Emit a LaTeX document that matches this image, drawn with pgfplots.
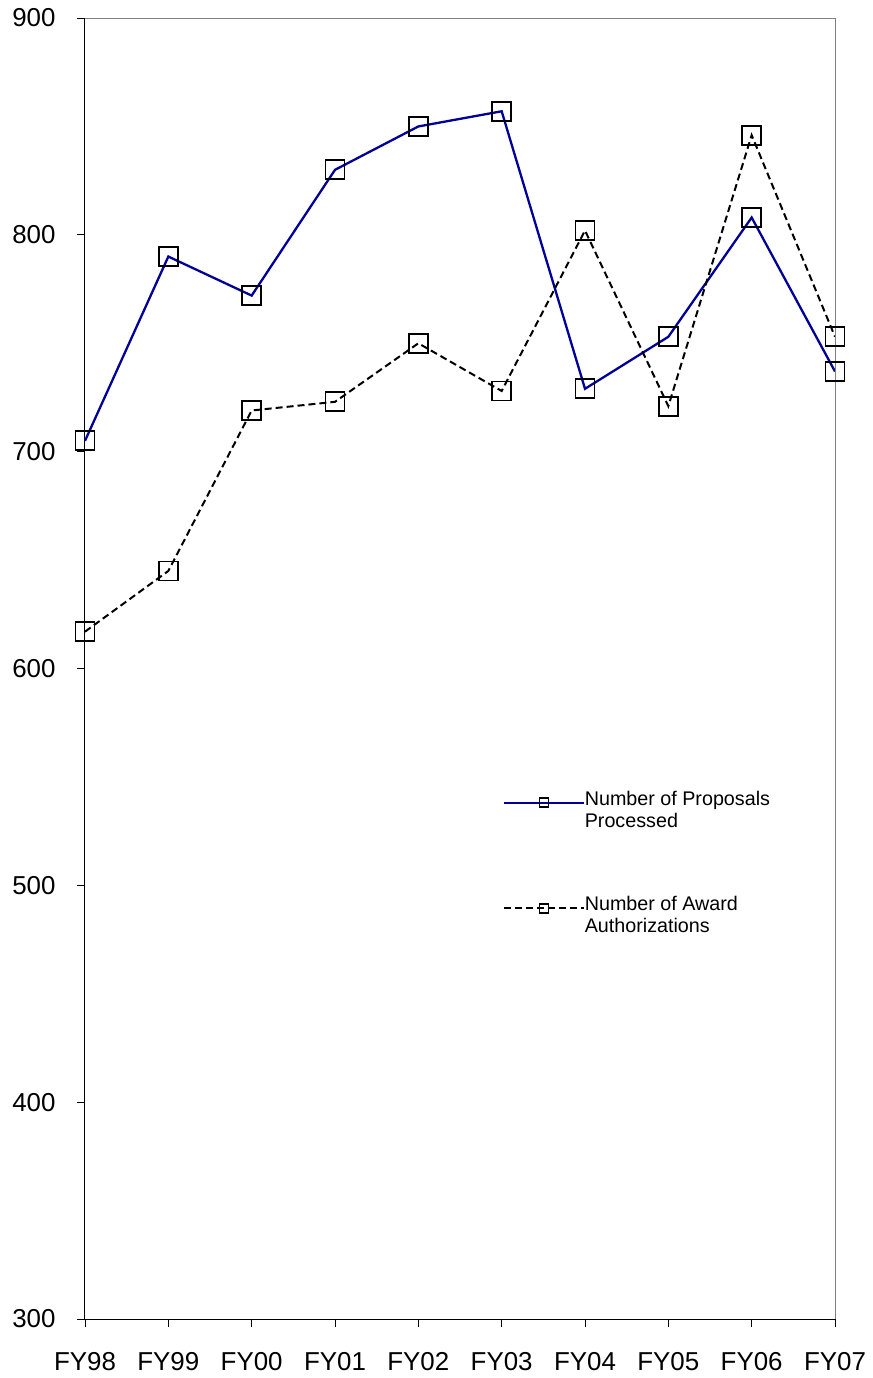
\documentclass[border=0pt]{standalone}
\usepackage{fontspec}
\setmainfont{Liberation Sans}
\usepackage{pgfplots}
\pgfplotsset{compat=1.18}
\definecolor{propblue}{RGB}{0,0,150}
\begin{document}
\begin{tikzpicture}
\begin{axis}[
  scale only axis,
  width=750bp, height=1301bp,
  at={(0,0)}, anchor=south west,
  xmin=0, xmax=9,
  ymin=300, ymax=900,
  xtick={0,...,9},
  xticklabels={FY98,FY99,FY00,FY01,FY02,FY03,FY04,FY05,FY06,FY07},
  ytick={300,400,...,900},
  axis lines*=left,
  axis line style={black, line width=1bp},
  tick align=outside,
  major tick length=8bp,
  tick style={black, line width=0.8bp},
  /pgf/number format/assume math mode=true,
  tick label style={font=\fontsize{26}{30}\selectfont},
  yticklabel style={xshift=-18bp},
  xticklabel style={yshift=-22bp},
  clip=false,
  legend style={draw=none, fill=none, at={(415bp,531bp)}, anchor=north west,
    font=\fontsize{19.8}{22}\selectfont, row sep=88bp,
    nodes={anchor=mid west, inner sep=0pt, xshift=8bp}},
  legend cell align=left,
  legend image code/.code={
    \draw[mark repeat=2, mark phase=2, #1, mark size=4.5bp, line width=1.6bp]
      plot coordinates {(0bp,0bp) (40bp,0bp) (80bp,0bp)};},
]
\addplot[propblue, line width=2.3bp, mark=square, mark size=9.5bp,
  mark options={solid, draw=black, line width=1.8bp}]
coordinates {(0,705) (1,790) (2,772) (3,830) (4,850) (5,857) (6,729) (7,753) (8,808) (9,737)};
\addlegendentry{\begin{tabular}[t]{@{}l@{}}Number of Proposals\\Processed\end{tabular}}
\addplot[black, line width=2bp, dash pattern=on 7bp off 4bp, mark=square, mark size=9.5bp,
  mark options={solid, draw=black, line width=1.8bp}]
coordinates {(0,617) (1,645) (2,719) (3,723) (4,750) (5,728) (6,802) (7,721) (8,846) (9,753)};
\addlegendentry{\begin{tabular}[t]{@{}l@{}}Number of Award\\Authorizations\end{tabular}}
\draw[gray, line width=1bp] (rel axis cs:0,1) -- (rel axis cs:1,1) -- (rel axis cs:1,0);
\end{axis}
\pgfresetboundingbox
\path (-85bp,-59bp) rectangle (788bp,1319bp);
\end{tikzpicture}
\end{document}
